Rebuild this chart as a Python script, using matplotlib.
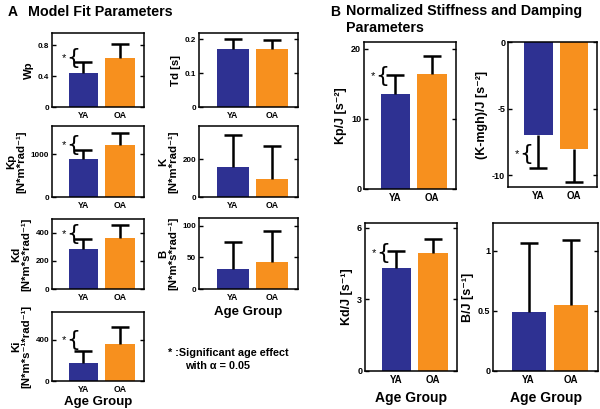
import numpy as np
import matplotlib
matplotlib.use('Agg')
import matplotlib.pyplot as plt

plt.rcParams['font.family'] = ['Liberation Sans', 'DejaVu Sans']
plt.rcParams['font.weight'] = 'bold'

# groups and colours
groups = ['YA', 'OA']
bar_colors = ['#2E3192', '#F7901E']

# panel A: mean and SD (upper error)
wp_mean = [0.44, 0.64]
wp_err = [0.14, 0.18]
td_mean = [0.170, 0.172]
td_err = [0.029, 0.025]
kp_mean = [885, 1222]
kp_err = [220, 290]
k_mean = [156, 94]
k_err = [170, 176]
kd_mean = [285, 365]
kd_err = [70, 89]
b_mean = [32, 43]
b_err = [41.5, 49]
ki_mean = [179, 358]
ki_err = [114, 166]

# panel B: normalized values
kpj_mean = [13.5, 16.4]
kpj_err = [2.8, 2.6]
kmghj_mean = [-6.98, -8.06]
kmghj_err = [2.5, 2.43]
kdj_mean = [4.30, 4.95]
kdj_err = [0.72, 0.56]
bj_mean = [0.494, 0.55]
bj_err = [0.566, 0.54]

W, H = 600, 409
fig = plt.figure(figsize=(W/100, H/100), dpi=100)


def px_axes(x0, y0, x1, y1):
    return fig.add_axes([x0/W, 1 - y1/H, (x1 - x0)/W, (y1 - y0)/H])


def bar_panel(ax, mean, err, ylim, ticks, ticklabels, ylabel, tsize, lsize,
              star=None):
    x = np.array([1, 2])
    ax.bar(x, mean, width=0.8, color=bar_colors, zorder=2)
    mean = np.array(mean)
    err = np.array(err)
    neg = mean < 0
    lower = np.where(neg, err, 0)
    upper = np.where(neg, 0, err)
    _, caps, _ = ax.errorbar(x, mean, yerr=[lower, upper], fmt='none',
                             ecolor='k', elinewidth=1.8, capsize=6.5,
                             capthick=1.8, zorder=3)
    # hide the cap sitting on the bar end
    caps[1 if neg.all() else 0].set_visible(False)
    ax.set_xlim(0.15, 2.65)
    ax.set_ylim(*ylim)
    ax.set_yticks(ticks)
    ax.set_yticklabels(ticklabels)
    ax.set_xticks(x)
    ax.set_xticklabels(groups)
    ax.tick_params(axis='y', direction='in', length=3, width=1, right=True,
                   labelsize=tsize, pad=2)
    ax.tick_params(axis='x', length=0, labelsize=tsize + 0.5, pad=3)
    for sp in ax.spines.values():
        sp.set_linewidth(1.1)
    ax.set_ylabel(ylabel, fontsize=lsize, fontweight='bold', labelpad=3,
                  linespacing=1.0)
    if star is not None:
        sx, sy = star
        ax.text(sx, sy, '*', transform=ax.transAxes, fontsize=8,
                ha='right', va='center', fontweight='normal')
        ax.text(sx + 0.005, sy, '{', transform=ax.transAxes, fontsize=16,
                ha='left', va='center', fontweight='normal',
                family='DejaVu Sans')


# ---- panel A ----
ax = px_axes(52, 33, 144, 107)
bar_panel(ax, wp_mean, wp_err, (0, 0.96), [0, 0.4, 0.8], ['0', '0.4', '0.8'],
          'Wp', 5.8, 8.2, star=(0.15, 0.66))
ax = px_axes(199, 33, 298, 107)
bar_panel(ax, td_mean, td_err, (0, 0.218), [0, 0.1, 0.2], ['0', '0.1', '0.2'],
          'Td [s]', 5.8, 8.2)
ax = px_axes(52, 126, 144, 197)
bar_panel(ax, kp_mean, kp_err, (0, 1670), [0, 1000], ['0', '1000'],
          'Kp\n[N*m*rad⁻¹]', 5.8, 8.2, star=(0.15, 0.73))
ax = px_axes(199, 126, 298, 197)
bar_panel(ax, k_mean, k_err, (0, 375), [0, 200], ['0', '200'],
          'K\n[N*m*rad⁻¹]', 5.8, 8.2)
ax = px_axes(52, 219, 144, 289)
bar_panel(ax, kd_mean, kd_err, (0, 497), [0, 200, 400], ['0', '200', '400'],
          'Kd\n[N*m*s*rad⁻¹]', 5.8, 8.2, star=(0.15, 0.79))
ax = px_axes(199, 218, 298, 289)
bar_panel(ax, b_mean, b_err, (0, 112), [0, 50, 100], ['0', '50', '100'],
          'B\n[N*m*s*rad⁻¹]', 5.8, 8.2)
ax.set_xlabel('Age Group', fontsize=9.5, fontweight='bold', labelpad=3)
ax = px_axes(52, 312, 144, 381)
bar_panel(ax, ki_mean, ki_err, (0, 673), [0, 400], ['0', '400'],
          'Ki\n[N*m*s⁻¹*rad⁻¹]', 5.8, 8.2, star=(0.15, 0.59))
ax.set_xlabel('Age Group', fontsize=9.5, fontweight='bold', labelpad=1)

# ---- panel B ----
ax = px_axes(364, 42, 456, 189)
bar_panel(ax, kpj_mean, kpj_err, (0, 21), [0, 10, 20], ['0', '10', '20'],
          'Kp/J [s⁻²]', 6.5, 9, star=(0.12, 0.77))
ax = px_axes(508, 42, 597, 187)
bar_panel(ax, kmghj_mean, kmghj_err, (-10.9, 0), [-10, -5, 0],
          ['-10', '-5', '0'], '(K-mgh)/J [s⁻²]', 6.5, 9, star=(0.12, 0.23))
ax = px_axes(365, 223, 457, 371)
bar_panel(ax, kdj_mean, kdj_err, (0, 6.2), [0, 3, 6], ['0', '3', '6'],
          'Kd/J [s⁻¹]', 6.5, 9, star=(0.12, 0.80))
ax.set_xlabel('Age Group', fontsize=10, fontweight='bold', labelpad=4)
ax = px_axes(493, 223, 598, 371)
bar_panel(ax, bj_mean, bj_err, (0, 1.23), [0, 0.5, 1], ['0', '0.5', '1'],
          'B/J [s⁻¹]', 6.5, 9)
ax.set_xlabel('Age Group', fontsize=10, fontweight='bold', labelpad=4)

# ---- titles and notes ----
fig.text(8/W, 1 - 12/H, 'A', fontsize=10, fontweight='bold', va='center')
fig.text(28/W, 1 - 12/H, 'Model Fit Parameters', fontsize=10.3,
         fontweight='bold', va='center')
fig.text(330/W, 1 - 12/H, 'B', fontsize=10, fontweight='bold', va='center')
fig.text(346/W, 1 - 4/H, 'Normalized Stiffness and Damping\nParameters',
         fontsize=10.3, fontweight='bold', va='top', linespacing=1.25)
fig.text(168/W, 1 - 353/H, '* :Significant age effect', fontsize=7.8,
         fontweight='bold', va='center')
fig.text(185/W, 1 - 366/H, 'with α = 0.05', fontsize=7.8,
         fontweight='bold', va='center')

fig.savefig('out.png', dpi=100)
